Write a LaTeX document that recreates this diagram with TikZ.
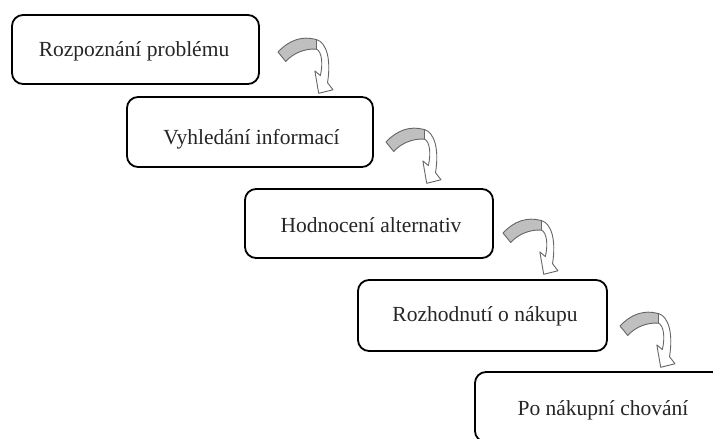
\documentclass[tikz,border=0pt]{standalone}
\usepackage{fontspec}
\setmainfont{Liberation Serif}
\tikzset{
  stepbox/.style={draw=black, line width=1.8pt, rounded corners=11pt, fill=white, inner sep=0pt},
  steptext/.style={font=\fontsize{21.5}{26}\selectfont, text=black!85, inner sep=0pt},
  backband/.style={fill=black!25, draw=black!60, line width=0.9pt, line join=round},
  frontband/.style={fill=white, draw=black!60, line width=0.9pt, line join=round}
}
\newcommand\myturnarrow[2]{%
  \begin{scope}[shift={(#1,#2)}]
  \begin{scope}[shift={(278,52)}, xscale=1.1, yscale=1.18, shift={(-278,-52)}]
    \path[backband] (278,52) .. controls (288,42) and (300,38) .. (313,41.5)
      -- (313,49.5) .. controls (302,49) and (292,53) .. (285,60) -- cycle;
    \path[frontband] (313,41.5) .. controls (322,44) and (326.5,58) .. (323,78)
      -- (328,84) -- (315,87) -- (311.5,68) -- (316.5,72)
      .. controls (319,62) and (318,52) .. (313,49.5) -- cycle;
  \end{scope}
  \end{scope}}
\begin{document}
\begin{tikzpicture}[x=1pt,y=-1pt]
\useasboundingbox (0,0) rectangle (713,439);
\clip (0,0) rectangle (713,439);
\fill[white] (0,0) rectangle (713,439);
\node[stepbox, minimum width=247pt, minimum height=69pt] (b1) at (135.5,49.5) {};
\node[stepbox, minimum width=246pt, minimum height=70pt] (b2) at (250,132) {};
\node[stepbox, minimum width=248pt, minimum height=69pt] (b3) at (369,223.5) {};
\node[stepbox, minimum width=249pt, minimum height=71pt] (b4) at (482.5,315.5) {};
\node[stepbox, minimum width=248pt, minimum height=70pt] (b5) at (599,407) {};
\node[steptext] (t1) at (134,51.5) {Rozpoznání problému};
\node[steptext] (t2) at (251.5,139) {Vyhledání informací};
\node[steptext] (t3) at (371,225.5) {Hodnocení alternativ};
\node[steptext] (t4) at (485,316.5) {Rozhodnutí o nákupu};
\node[steptext] (t5) at (603,410) {Po nákupní chování};
\myturnarrow{0}{0}
\myturnarrow{108}{90}
\myturnarrow{225}{181}
\myturnarrow{342}{274}
\end{tikzpicture}
\end{document}
